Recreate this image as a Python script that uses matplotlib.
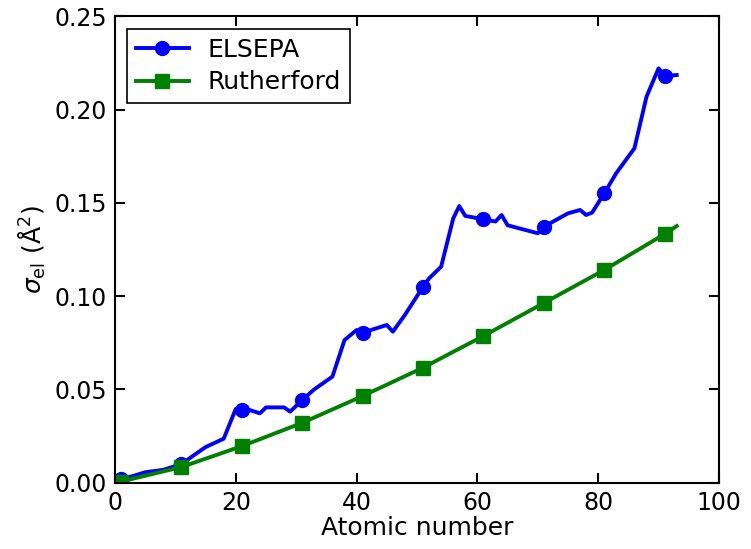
import matplotlib
matplotlib.use("Agg")
import matplotlib.pyplot as plt

# ELSEPA elastic cross section
z_elsepa = [1, 3, 5, 8, 11, 13, 15, 18, 20, 21, 22, 24, 25, 28, 29, 31, 33, 36,
            38, 40, 41, 45, 46, 48, 51, 52, 54, 56, 57, 58, 61, 63, 64, 65, 70,
            71, 75, 77, 78, 79, 81, 83, 86, 88, 90, 91, 93]
sig_elsepa = [0.002, 0.0035, 0.0055, 0.0068, 0.0099, 0.0145, 0.019, 0.0235,
              0.0395, 0.0389, 0.0392, 0.0371, 0.0403, 0.0403, 0.0380, 0.0443,
              0.050, 0.0568, 0.0764, 0.0818, 0.0804, 0.0845, 0.0809, 0.0899,
              0.105, 0.1095, 0.1158, 0.1417, 0.1483, 0.143, 0.1412, 0.140,
              0.1435, 0.138, 0.1337, 0.1372, 0.1444, 0.1462, 0.1435, 0.1448,
              0.1551, 0.166, 0.1793, 0.207, 0.2222, 0.218, 0.2186]

# Rutherford cross section
z_ruth = [1, 11, 21, 31, 41, 51, 61, 71, 81, 91, 93]
sig_ruth = [0.0005, 0.0083, 0.0195, 0.0320, 0.0464, 0.0616, 0.0786, 0.0963,
            0.114, 0.1333, 0.1376]

plt.rcParams["font.size"] = 18
plt.rcParams["xtick.labelsize"] = 17
plt.rcParams["ytick.labelsize"] = 17
plt.rcParams["xtick.direction"] = "in"
plt.rcParams["ytick.direction"] = "in"
plt.rcParams["xtick.top"] = True
plt.rcParams["ytick.right"] = True
plt.rcParams["xtick.major.size"] = 7
plt.rcParams["ytick.major.size"] = 7
plt.rcParams["xtick.major.pad"] = 6
plt.rcParams["ytick.major.pad"] = 6

fig = plt.figure(figsize=(7.51, 5.49), dpi=100)
ax = fig.add_axes([0.1531, 0.1211, 0.8043, 0.8489])

mark_e = [i for i, z in enumerate(z_elsepa) if z % 10 == 1]
mark_r = [i for i, z in enumerate(z_ruth) if z % 10 == 1]

ax.plot(z_elsepa, sig_elsepa, "-o", color="#0000ff", lw=2.8, ms=10,
        markevery=mark_e, label="ELSEPA")
ax.plot(z_ruth, sig_ruth, "-s", color="#008000", lw=2.8, ms=10,
        markevery=mark_r, label="Rutherford")

ax.set_xlim(0, 100)
ax.set_ylim(0, 0.25)
ax.set_xticks([0, 20, 40, 60, 80, 100])
ax.set_yticks([0.0, 0.05, 0.10, 0.15, 0.20, 0.25])
ax.set_yticklabels(["0.00", "0.05", "0.10", "0.15", "0.20", "0.25"])
for s in ax.spines.values():
    s.set_linewidth(1.5)
ax.tick_params(width=1.5)

ax.set_xlabel("Atomic number", labelpad=1)
ax.set_ylabel(r"$\sigma_{\rm el}\ \left(\mathrm{\AA}^2\right)$", labelpad=4)

leg = ax.legend(loc="upper left", fancybox=False, edgecolor="black",
                framealpha=1, handlelength=2.1, handletextpad=0.75,
                borderpad=0.35, labelspacing=0.35,
                bbox_to_anchor=(0.0, 1.0), borderaxespad=0.5)
leg.get_frame().set_linewidth(1.2)

fig.savefig("out.png", dpi=100)
